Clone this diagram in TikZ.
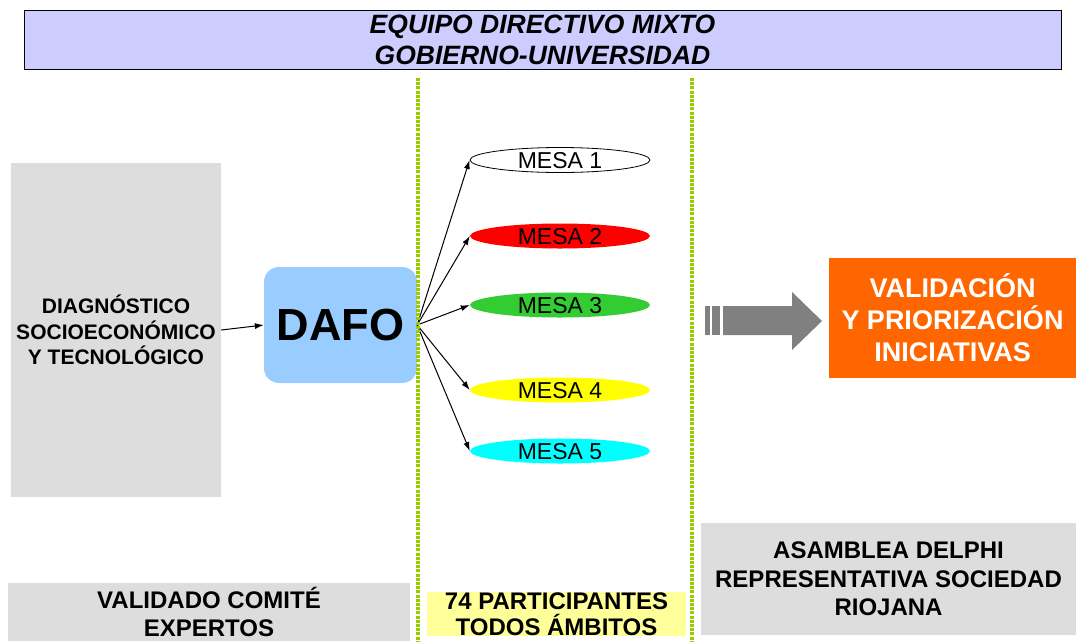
\documentclass[tikz,border=0pt]{standalone}
\usepackage{fontspec}
\setmainfont{Liberation Sans}
\usetikzlibrary{arrows.meta,shapes.geometric}
\definecolor{lav}{HTML}{CCCCFF}
\definecolor{lgray}{HTML}{DDDDDD}
\definecolor{dafoblue}{HTML}{99CCFF}
\definecolor{dotgreen}{HTML}{99CC00}
\definecolor{mred}{HTML}{FF0000}
\definecolor{mgreen}{HTML}{33CC33}
\definecolor{myellow}{HTML}{FFFF00}
\definecolor{mcyan}{HTML}{00FFFF}
\definecolor{orangebox}{HTML}{FF6600}
\definecolor{paleyellow}{HTML}{FFFF99}
\definecolor{arrowgray}{HTML}{808080}
\begin{document}
\begin{tikzpicture}[x=1pt,y=-1pt,
  grayblock/.style={fill=lgray, inner sep=0pt, align=center, font=\bfseries\fontsize{24}{28.5}\selectfont},
  mesa/.style={ellipse, inner sep=0pt, minimum width=180pt, minimum height=25pt, text height=16pt, text depth=0pt, font=\fontsize{23}{23}\selectfont},
  conn/.style={line width=1pt, -{Latex[length=9pt,width=6pt]}},
  dotline/.style={dotgreen, line width=3.5pt, dash pattern=on 3pt off 1.2pt}
]
\useasboundingbox (0,0) rectangle (1076,641);

% title
\node[fill=lav, draw=black, line width=1pt, minimum width=1037pt, minimum height=59pt, inner sep=0pt, align=center,
  font=\bfseries\itshape\fontsize{26.5}{31}\selectfont] (title) at (542.5,39.5) {EQUIPO DIRECTIVO MIXTO\\GOBIERNO-UNIVERSIDAD};

% left diagnosis box
\node[grayblock, minimum width=210pt, minimum height=334pt, font=\bfseries\fontsize{21}{25.5}\selectfont] (diag) at (116,330)
  {DIAGNÓSTICO\\SOCIOECONÓMICO\\Y TECNOLÓGICO};

% DAFO
\node[fill=dafoblue, rounded corners=15pt, minimum width=153pt, minimum height=116pt, inner sep=0pt,
  font=\bfseries\fontsize{45}{45}\selectfont] (dafo) at (340.5,325) {DAFO};

% mesas
\node[mesa, draw=black, line width=0.8pt, fill=white] (m1) at (560,160) {MESA 1};
\node[mesa, fill=mred] (m2) at (560,236) {MESA 2};
\node[mesa, fill=mgreen] (m3) at (560,305) {MESA 3};
\node[mesa, fill=myellow] (m4) at (560,390) {MESA 4};
\node[mesa, fill=mcyan] (m5) at (560,451) {MESA 5};

% connectors
\draw[conn] (diag.east) -- (dafo.west);
\foreach \m in {m1,m2,m3,m4,m5} { \draw[conn] (dafo.east) -- (\m.west); }

% dotted separators
\draw[dotline] (418,78) -- (418,641);
\draw[dotline] (692,78) -- (692,641);

% big gray arrow
\fill[arrowgray] (705,306) rectangle (709.5,335);
\fill[arrowgray] (712,306) rectangle (720,335);
\fill[arrowgray] (723,306) -- (792,306) -- (792,292) -- (822,321) -- (792,350) -- (792,335) -- (723,335) -- cycle;

% orange result box
\node[fill=orangebox, text=white, minimum width=247pt, minimum height=120pt, inner sep=0pt, align=center,
  font=\bfseries\fontsize{27}{32}\selectfont] (valid) at (952.5,318) {VALIDACIÓN\\Y PRIORIZACIÓN\\INICIATIVAS};

% bottom labels
\node[grayblock, minimum width=402pt, minimum height=58pt, font=\bfseries\fontsize{24}{28}\selectfont] (expert) at (209,612)
  {VALIDADO COMITÉ\\EXPERTOS};
\node[fill=paleyellow, minimum width=259pt, minimum height=44pt, inner sep=0pt, align=center,
  font=\bfseries\fontsize{24}{26}\selectfont] (partic) at (556.5,614) {74 PARTICIPANTES\\TODOS ÁMBITOS};
\node[grayblock, minimum width=375pt, minimum height=112pt] (delphi) at (888.5,579)
  {ASAMBLEA DELPHI\\REPRESENTATIVA SOCIEDAD\\RIOJANA};
\end{tikzpicture}
\end{document}
